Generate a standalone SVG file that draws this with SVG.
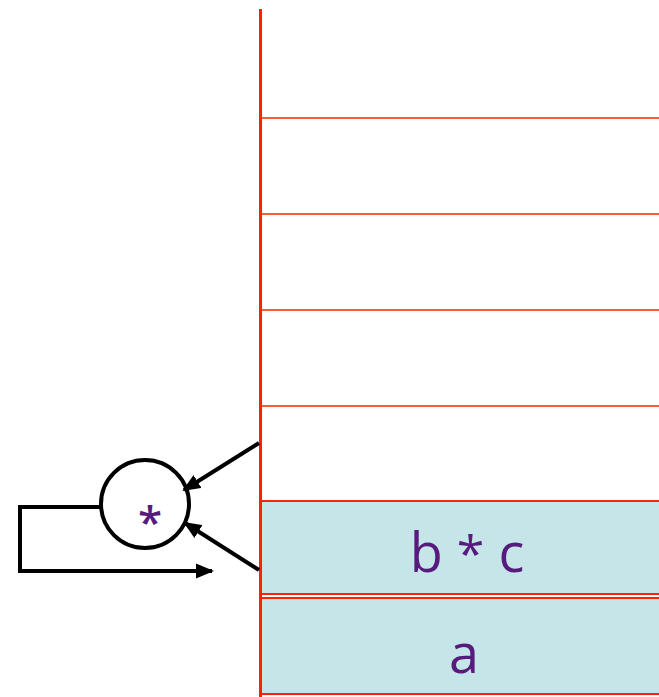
<svg xmlns="http://www.w3.org/2000/svg" width="659" height="697" viewBox="0 0 659 697">
<defs>
<style>
.grid{stroke:#FF2200;stroke-width:1.5;fill:none}
.cell{fill:#C5E5E8;stroke:#FF2200;stroke-width:2}
.lbl{font-family:"Open Sans","Noto Sans",sans-serif;fill:#561B7C;text-anchor:middle}
.conn{stroke:#000;stroke-width:4;fill:none}
</style>
<marker id="ah" markerWidth="4.5" markerHeight="3.8" refX="4" refY="1.9" orient="auto" markerUnits="strokeWidth">
<path d="M0,0 L4.5,1.9 L0,3.8 Z" fill="#000"/>
</marker>
</defs>
<g id="stack">
<line class="grid" x1="261" y1="118" x2="659" y2="118"/>
<line class="grid" x1="261" y1="214" x2="659" y2="214"/>
<line class="grid" x1="261" y1="310" x2="659" y2="310"/>
<line class="grid" x1="261" y1="406" x2="659" y2="406"/>
</g>
<g id="cell-bc">
<rect class="cell" x="261" y="501" width="400" height="93"/>
<text class="lbl" x="467" y="572" font-size="54">b <tspan font-size="50">*</tspan> c</text>
</g>
<g id="cell-a">
<rect class="cell" x="261" y="598" width="400" height="96"/>
<text class="lbl" x="464" y="673" font-size="54">a</text>
</g>
<line x1="260.5" y1="9" x2="260.5" y2="697" stroke="#FF2200" stroke-width="3"/>
<g id="op">
<circle cx="145" cy="504" r="44" fill="#fff" stroke="#000" stroke-width="4"/>
<text class="lbl" x="150" y="538" font-size="44" font-weight="600">*</text>
</g>
<g id="connectors">
<line class="conn" x1="259" y1="443" x2="184" y2="490" marker-end="url(#ah)"/>
<line class="conn" x1="259" y1="570" x2="185" y2="523" marker-end="url(#ah)"/>
<polyline class="conn" points="101,507 20,507 20,571 212,571" marker-end="url(#ah)" stroke-linejoin="miter"/>
</g>
</svg>
